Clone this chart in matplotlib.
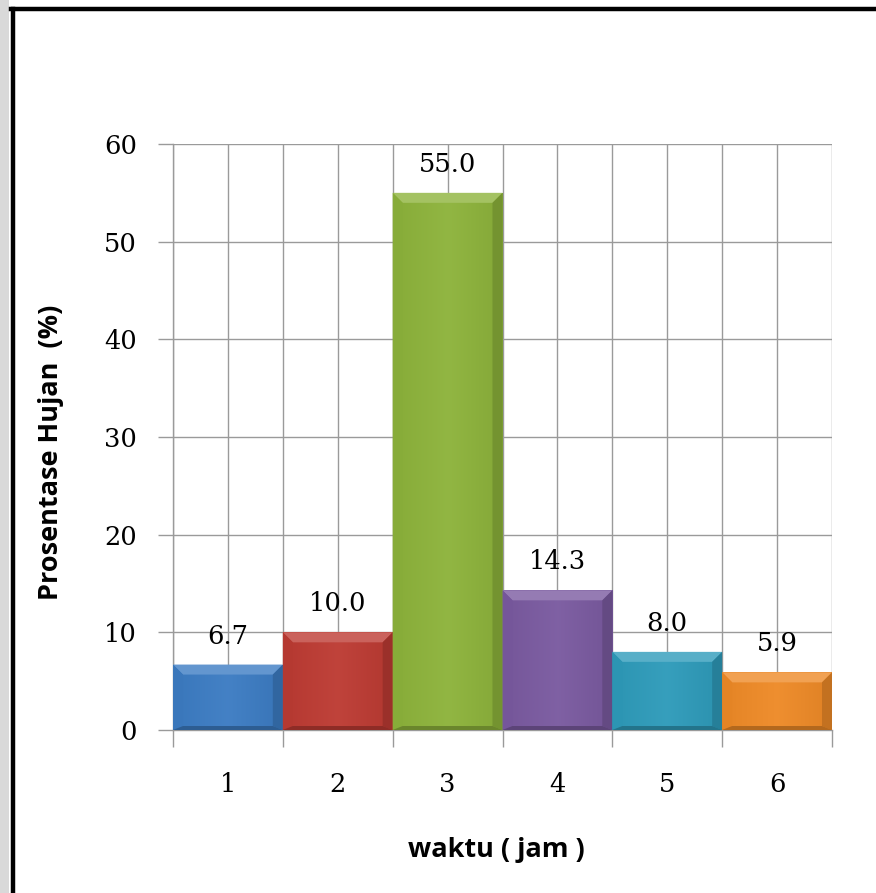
import matplotlib
matplotlib.use("Agg")
import matplotlib.pyplot as plt
from matplotlib.patches import Polygon, Rectangle
from matplotlib.lines import Line2D
import matplotlib.colors as mcolors
import numpy as np

# Rainfall distribution per hour
hours = [1, 2, 3, 4, 5, 6]
hour_labels = ["1", "2", "3", "4", "5", "6"]
percent = [6.7, 10.0, 55.0, 14.3, 8.0, 5.9]
bar_colors = ["#3C7CC3", "#BD3B33", "#8DB33B", "#7A5AA0", "#2E9BBA", "#EE8A27"]
y_ticks = [0, 10, 20, 30, 40, 50, 60]

W, H, DPI = 876, 893, 100
fig = plt.figure(figsize=(W / DPI, H / DPI), dpi=DPI)
fig.patch.set_facecolor("white")

# page strip and frame around the chart
fig.patches.append(Rectangle((0, 0), 9 / W, 1, transform=fig.transFigure,
                             facecolor="#d9d9d9", edgecolor="none", zorder=0))
fig.lines.append(Line2D([12.5 / W, 12.5 / W], [0, 1 - 9 / H], transform=fig.transFigure,
                        color="black", lw=3.2, zorder=5))
fig.lines.append(Line2D([11 / W, 1], [1 - 9 / H, 1 - 9 / H], transform=fig.transFigure,
                        color="black", lw=3.2, zorder=5))

ax_left, ax_right, ax_top, ax_bottom = 173, 832, 144, 730
ax = fig.add_axes([ax_left / W, 1 - ax_bottom / H,
                   (ax_right - ax_left) / W, (ax_bottom - ax_top) / H])

grid_col = "#9a9a9a"
serif = "DejaVu Serif"
num_size = 18.5

bars = ax.bar(hours, percent, width=1.0, color=bar_colors, edgecolor="none", zorder=3)

ax.set_xlim(0.5, 6.5)
ax.set_ylim(0, 60)

# bevel shading on every bar
px_w = ax_right - ax_left
px_h = ax_bottom - ax_top
bev = 10
dx = bev / px_w * 6.0
dy = bev / px_h * 60.0


def shade(c, f):
    r, g, b = mcolors.to_rgb(c)
    if f >= 0:
        return (r + (1 - r) * f, g + (1 - g) * f, b + (1 - b) * f)
    return (r * (1 + f), g * (1 + f), b * (1 + f))


for rect, col in zip(bars, bar_colors):
    x0 = rect.get_x()
    x1 = x0 + rect.get_width()
    y0 = rect.get_y()
    y1 = y0 + rect.get_height()
    # subtle horizontal gradient across the face
    grad = np.linspace(0, 1, 64).reshape(1, -1)
    cmap = mcolors.LinearSegmentedColormap.from_list(
        "g", [shade(col, -0.04), shade(col, 0.04), shade(col, -0.06)])
    im = ax.imshow(grad, extent=(x0, x1, y0, y1), aspect="auto", cmap=cmap,
                   zorder=3.1, interpolation="bicubic")
    im.set_clip_path(rect)
    polys = [
        ([(x0, y1), (x1, y1), (x1 - dx, y1 - dy), (x0 + dx, y1 - dy)], 0.20),
        ([(x0, y0), (x0, y1), (x0 + dx, y1 - dy), (x0 + dx, y0 + dy * 0.4)], -0.04),
        ([(x1, y0), (x1, y1), (x1 - dx, y1 - dy), (x1 - dx, y0 + dy * 0.4)], -0.18),
        ([(x0, y0), (x1, y0), (x1 - dx, y0 + dy * 0.4), (x0 + dx, y0 + dy * 0.4)], -0.25),
    ]
    for pts, f in polys:
        ax.add_patch(Polygon(pts, closed=True, facecolor=shade(col, f),
                             edgecolor="none", zorder=3.2))
    ax.text((x0 + x1) / 2, y1 + 60 * 21 / px_h, f"{rect.get_height():.1f}",
            ha="center", va="baseline", fontsize=num_size, family=serif,
            color="black", zorder=4)

# grid: boundaries and centres of each hour
ax.set_xticks(np.arange(0.5, 7.0, 1.0))
ax.set_xticks(hours, minor=True)
ax.set_xticklabels([])
ax.set_xticklabels(hour_labels, minor=True, fontsize=num_size, family=serif)
ax.tick_params(axis="x", which="major", length=12, width=1, color=grid_col, direction="out")
ax.tick_params(axis="x", which="minor", length=0, pad=30)
ax.set_yticks(y_ticks)
ax.set_yticklabels([str(v) for v in y_ticks], fontsize=num_size, family=serif)
ax.tick_params(axis="y", length=11, width=1, color=grid_col, direction="out", pad=15)
ax.grid(True, which="both", axis="x", color=grid_col, lw=1, zorder=1)
ax.grid(True, which="major", axis="y", color=grid_col, lw=1, zorder=1)
ax.set_axisbelow(True)

for s in ["top", "right"]:
    ax.spines[s].set_visible(False)
for s in ["left", "bottom"]:
    ax.spines[s].set_color(grid_col)
    ax.spines[s].set_linewidth(1)
ax.set_facecolor("white")

ax.set_xlabel("waktu ( jam )", fontsize=19.5, fontweight="bold", family="Open Sans")
ax.set_ylabel("Prosentase Hujan  (%)", fontsize=19.5, fontweight="bold", family="Open Sans")
ax.xaxis.set_label_coords((496 - ax_left) / px_w, -(837 - ax_bottom) / px_h)
ax.yaxis.set_label_coords(-(173 - 64) / px_w, (ax_bottom - 452) / px_h)

fig.savefig("out.png", dpi=DPI)
